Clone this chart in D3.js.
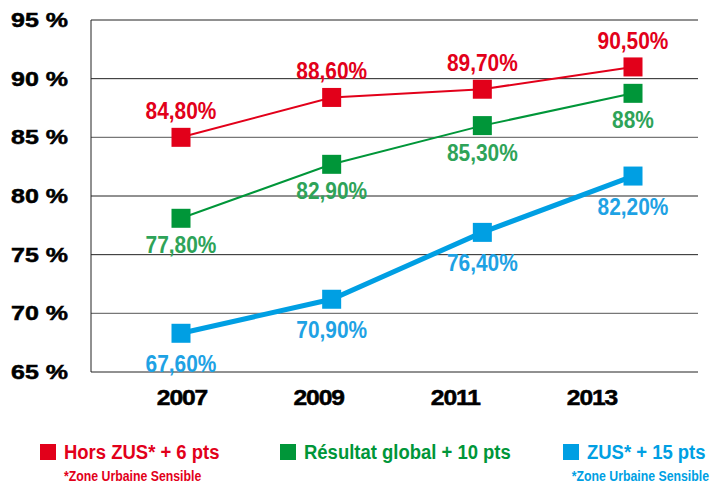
<!DOCTYPE html>
<html>
<head>
<meta charset="utf-8">
<script src="https://cdn.jsdelivr.net/npm/d3@7"></script>
<style>
  body { margin: 0; background: #fff; }
  svg { display: block; }
  .cond { font-family: "Liberation Sans", Arial, sans-serif; font-weight: bold; }
  .axis-lab { font-family: "Liberation Sans", Arial, sans-serif; font-weight: bold; fill: #000; stroke: #000; stroke-width: 0.5; }
</style>
</head>
<body>
<svg id="chart" width="724" height="485"></svg>
<script>
// years and values
const years = [2007, 2009, 2011, 2013];
const yTicks = [65, 70, 75, 80, 85, 90, 95];

const horsZus = [85.0, 88.4, 89.1, 91.0];
const horsZusLabels = ["84,80%", "88,60%", "89,70%", "90,50%"];

const global = [78.1, 82.7, 86.0, 88.75];
const globalLabels = ["77,80%", "82,90%", "85,30%", "88%"];

const zus = [68.3, 71.2, 76.9, 81.7];
const zusLabels = ["67,60%", "70,90%", "76,40%", "82,20%"];

const seriesNames = ["Hors ZUS* + 6 pts", "Résultat global + 10 pts", "ZUS* + 15 pts"];
const footnote = "*Zone Urbaine Sensible";

const svg = d3.select("#chart"),
  width = +svg.attr("width"),
  height = +svg.attr("height");

const plotLeft = 91, plotRight = 698, plotTop = 20, plotBottom = 372;

const yScale = d3.scaleLinear().domain([65, 95]).range([plotBottom, plotTop]);
const xScale = d3.scaleLinear().domain([2007, 2013]).range([181, 633]);
// year labels sit on their own even spacing
const xLabelScale = d3.scalePoint().domain(years).range([182, 592]);

// no narrow/extended font installed, so stretch the bold one
function sText(sel, cls, x, y, size, sx, anchor) {
  return sel.append("text")
    .attr("class", cls)
    .attr("transform", `translate(${x},${y}) scale(${sx},1)`)
    .attr("text-anchor", anchor || "start")
    .attr("font-size", size);
}

// grid
yTicks.forEach(t => {
  svg.append("line")
    .attr("x1", plotLeft).attr("x2", plotRight)
    .attr("y1", yScale(t)).attr("y2", yScale(t))
    .attr("stroke", (t == 85 || t == 70) ? "#777" : "#222")
    .attr("stroke-width", (t == 85 || t == 70) ? 1.4 : 1);
});
svg.append("line")
  .attr("x1", plotLeft).attr("x2", plotLeft)
  .attr("y1", plotTop).attr("y2", plotBottom)
  .attr("stroke", "#222").attr("stroke-width", 1);

// y labels
yTicks.forEach(t => {
  sText(svg, "axis-lab", 68, yScale(t) + 7, 20, 1.25, "end").text(t + " %");
});

// x labels
years.forEach(y => {
  sText(svg, "axis-lab", xLabelScale(y), 405, 22, 1.12, "middle")
    .attr("letter-spacing", -1)
    .text(y);
});

const series = [
  { name: seriesNames[0], values: horsZus, labels: horsZusLabels, color: "#e2001a", text: "#e2001a", width: 2, dy: -18 },
  { name: seriesNames[1], values: global, labels: globalLabels, color: "#009639", text: "#2ea358", width: 2, dy: 35 },
  { name: seriesNames[2], values: zus, labels: zusLabels, color: "#009fe3", text: "#1ea2e4", width: 5, dy: 39 }
];

const line = d3.line()
  .x((d, i) => xScale(years[i]))
  .y(d => yScale(d));

const markerSize = 19;

series.forEach(s => {
  const g = svg.append("g");
  g.append("path")
    .datum(s.values)
    .attr("d", line)
    .attr("fill", "none")
    .attr("stroke", s.color)
    .attr("stroke-width", s.width);

  g.selectAll("rect")
    .data(s.values)
    .join("rect")
    .attr("x", (d, i) => xScale(years[i]) - markerSize / 2)
    .attr("y", d => yScale(d) - markerSize / 2)
    .attr("width", markerSize)
    .attr("height", markerSize)
    .attr("fill", s.color);

  s.values.forEach((v, i) => {
    sText(g, "cond", xScale(years[i]), yScale(v) + s.dy, 24, 0.87, "middle")
      .attr("fill", s.text)
      .text(s.labels[i]);
  });
});

// legend
const legendX = [40, 280, 563];
series.forEach((s, i) => {
  const lg = svg.append("g").attr("transform", `translate(${legendX[i]}, 444)`);
  lg.append("rect")
    .attr("width", 16).attr("height", 16)
    .attr("fill", s.color);
  sText(lg, "cond", 24, 15, 21, 0.88)
    .attr("fill", s.color)
    .text(s.name);
});

sText(svg, "cond", 64, 481, 15, 0.82)
  .attr("fill", "#e2001a")
  .text(footnote);

sText(svg, "cond", 709, 481, 15, 0.82, "end")
  .attr("fill", "#009fe3")
  .text(footnote);
</script>
</body>
</html>
